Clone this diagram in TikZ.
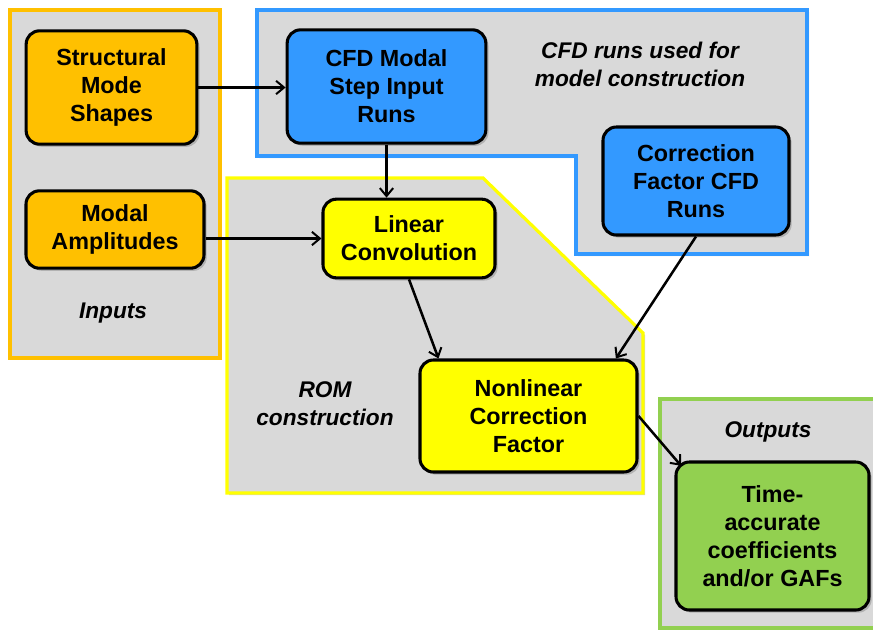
\documentclass[tikz,border=0pt]{standalone}
\usepackage{fontspec}
\setmainfont{Liberation Sans}
\usetikzlibrary{arrows.meta,positioning,calc,shadows}
\definecolor{ROMGray}{HTML}{D9D9D9}
\definecolor{ROMOrange}{HTML}{FFC000}
\definecolor{ROMBlue}{HTML}{3399FF}
\definecolor{ROMYellow}{HTML}{FFFF00}
\definecolor{ROMGreen}{HTML}{92D050}

\begin{document}
\begin{tikzpicture}[
  x=0.75pt,y=-0.75pt,
  panel/.style={fill=ROMGray,line width=2.4pt,line join=miter,
    drop shadow={shadow xshift=1.5pt,shadow yshift=-1.5pt,fill=black!40,opacity=0.45}},
  blockbox/.style={draw=black,line width=2.3pt,rounded corners=10pt,align=center,
    font=\fontsize{17.5}{21}\selectfont\bfseries,inner sep=2pt,
    drop shadow={shadow xshift=2pt,shadow yshift=-2pt,fill=black!45,opacity=0.5}},
  caption/.style={font=\fontsize{17}{21}\selectfont\bfseries\itshape,align=center},
  flow/.style={draw=black,line width=1.9pt,-{Straight Barb[length=6pt,width=10pt,line width=1.5pt]}},
]
\clip (0,0) rectangle (873,633);
\useasboundingbox (0,0) rectangle (873,633);
% panels
\draw[panel,draw=ROMOrange] (10,10) rectangle (220,358);
\draw[panel,draw=ROMBlue] (257,10) -- (807,10) -- (807,254) -- (576,254) -- (576,156) -- (257,156) -- cycle;
\draw[panel,draw=ROMYellow] (227,178) -- (483,178) -- (643,333) -- (643,493) -- (227,493) -- cycle;
\draw[panel,draw=ROMGreen] (660,399) rectangle (885,628);
% blocks
\node[blockbox,fill=ROMOrange,minimum width=128pt,minimum height=85pt] (shapes) at (111.5,87.5) {Structural\\Mode\\Shapes};
\node[blockbox,fill=ROMOrange,minimum width=133.5pt,minimum height=58pt] (ampl) at (115,229.5) {Modal\\Amplitudes};
\node[blockbox,fill=ROMBlue,minimum width=149pt,minimum height=85pt] (steprun) at (386.5,86.5) {CFD Modal\\Step Input\\Runs};
\node[blockbox,fill=ROMBlue,minimum width=139.5pt,minimum height=81pt] (corrrun) at (696,181) {Correction\\Factor CFD\\Runs};
\node[blockbox,fill=ROMYellow,minimum width=129pt,minimum height=59pt] (linconv) at (409,238.5) {Linear\\Convolution};
\node[blockbox,fill=ROMYellow,minimum width=162.75pt,minimum height=84pt] (nlcorr) at (528.5,416) {Nonlinear\\Correction\\Factor};
\node[blockbox,fill=ROMGreen,minimum width=144.75pt,minimum height=111pt] (outcoef) at (772.5,536) {Time-\\accurate\\coefficients\\and/or GAFs};
% captions
\node[caption] (inlabel) at (113,313) {Inputs};
\node[caption] (cfdlabel) at (640,64) {CFD runs used for\\model construction};
\node[caption] (romlabel) at (325,404) {ROM\\construction};
\node[caption] (outlabel) at (768,432) {Outputs};
% connectors
\draw[flow] (shapes.east) -- (shapes.east -| steprun.west);
\draw[flow] (steprun.south) -- (steprun.south |- linconv.north);
\draw[flow] (linconv.west -| ampl.east) -- (linconv.west);
\draw[flow] (linconv.south) -- ([xshift=15pt]nlcorr.north west);
\draw[flow] (corrrun.south) -- ([xshift=-17pt]nlcorr.north east);
\draw[flow] (nlcorr.east) -- ([xshift=5pt,yshift=-4pt]outcoef.north west);
\end{tikzpicture}
\end{document}
